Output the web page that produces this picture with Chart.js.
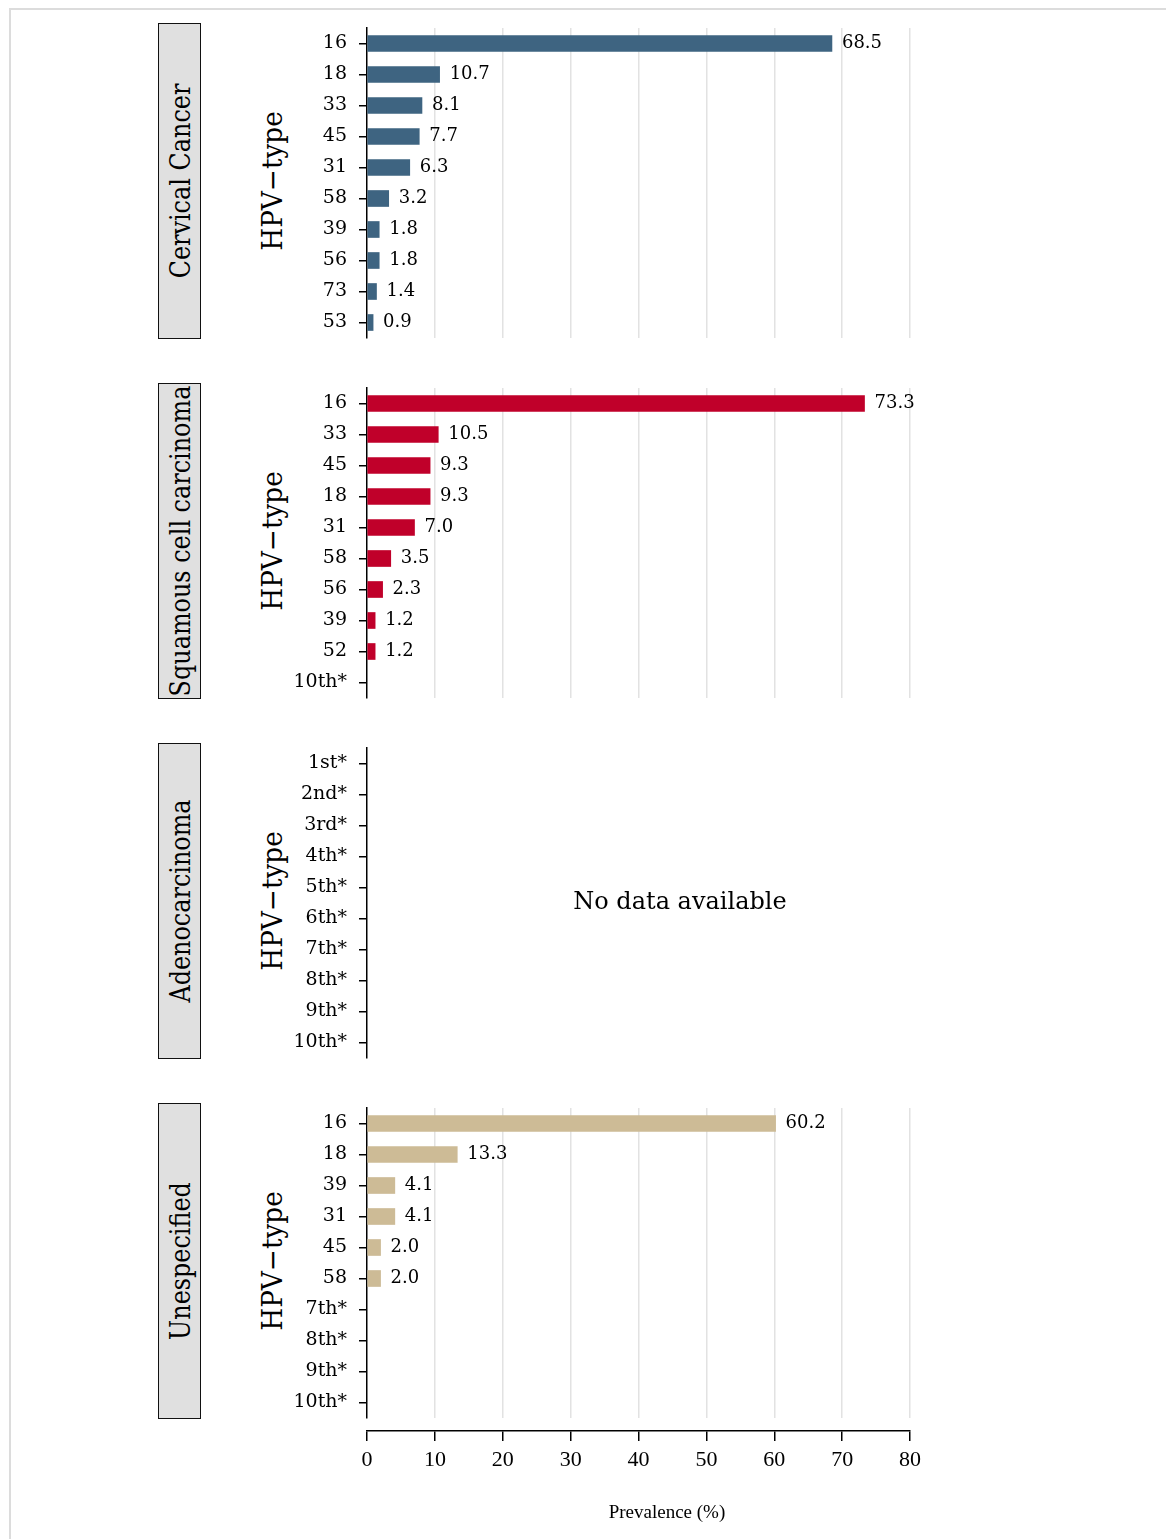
<!DOCTYPE html>
<html>
<head>
<meta charset="utf-8">
<script src="https://cdn.jsdelivr.net/npm/chart.js@4.4.1/dist/chart.umd.min.js"></script>
<style>
  body { margin: 0; background: #fff; }
  #page { position: relative; width: 1166px; height: 1539px; overflow: hidden; background: #fff; }
  #frame { position: absolute; left: 9px; top: 8px; right: -4px; bottom: -4px; border-top: 2px solid #dcdcdc; border-left: 2px solid #dcdcdc; }
  canvas { position: absolute; left: 0; }
  .strip { position: absolute; left: 158px; width: 41px; height: 314px; border: 1.5px solid #111; background: #e0e0e0; }
  .strip span, .ylab span { position: absolute; left: 50%; top: 50%; white-space: nowrap; font-family: 'DejaVu Serif', serif; color: #000; }
  .strip span { font-size: 27px; transform: translate(-50%, -50%) rotate(-90deg) scaleX(0.885); }
  .ylab { position: absolute; left: 250px; width: 44px; height: 316px; }
  .ylab span { font-size: 28px; transform: translate(-50%, -50%) rotate(-90deg) scaleX(0.94); }
  #nodata { position: absolute; left: 367px; width: 626px; top: 887px; text-align: center; font-family: 'DejaVu Serif', serif; font-size: 24px; color: #000; }
  #xtitle { position: absolute; left: 567px; width: 200px; top: 1501px; text-align: center; font-family: 'Liberation Serif', serif; font-size: 19px; color: #000; }
</style>
</head>
<body>
<div id="page">
  <div id="frame"></div>
</div>
<script>
// panel labels
const panelNames = ['Cervical Cancer', 'Squamous cell carcinoma', 'Adenocarcinoma', 'Unespecified'];
const panelColors = ['#3e6481', '#c0002a', '#cccccc', '#cdbb96'];

// HPV types per panel (top to bottom) and prevalence (%)
const cervicalTypes = ['16', '18', '33', '45', '31', '58', '39', '56', '73', '53'];
const cervicalValues = [68.5, 10.7, 8.1, 7.7, 6.3, 3.2, 1.8, 1.8, 1.4, 0.9];

const squamousTypes = ['16', '33', '45', '18', '31', '58', '56', '39', '52', '10th*'];
const squamousValues = [73.3, 10.5, 9.3, 9.3, 7.0, 3.5, 2.3, 1.2, 1.2, null];

const adenoTypes = ['1st*', '2nd*', '3rd*', '4th*', '5th*', '6th*', '7th*', '8th*', '9th*', '10th*'];
const adenoValues = [null, null, null, null, null, null, null, null, null, null];

const unspecTypes = ['16', '18', '39', '31', '45', '58', '7th*', '8th*', '9th*', '10th*'];
const unspecValues = [60.2, 13.3, 4.1, 4.1, 2.0, 2.0, null, null, null, null];

const xTicks = [0, 10, 20, 30, 40, 50, 60, 70, 80];

const panels = [
  [cervicalTypes, cervicalValues],
  [squamousTypes, squamousValues],
  [adenoTypes, adenoValues],
  [unspecTypes, unspecValues]
];

const page = document.getElementById('page');
Chart.defaults.font.family = "'DejaVu Serif', serif";
Chart.defaults.color = '#000';

// writes the value just right of each bar
const valueLabels = {
  id: 'valueLabels',
  afterDatasetsDraw(chart) {
    const ctx = chart.ctx;
    const meta = chart.getDatasetMeta(0);
    const vals = chart.data.datasets[0].data;
    ctx.save();
    ctx.font = "18px 'DejaVu Serif', serif";
    ctx.fillStyle = '#000';
    ctx.textAlign = 'left';
    ctx.textBaseline = 'middle';
    meta.data.forEach((bar, i) => {
      if (vals[i] == null) return;
      ctx.fillText(vals[i].toFixed(1), bar.x + 10, bar.y);
    });
    ctx.restore();
  }
};

panels.forEach(([types, values], p) => {
  const top = 360 * p;

  const strip = document.createElement('div');
  strip.className = 'strip';
  strip.style.top = (23 + top) + 'px';
  strip.innerHTML = `<span>${panelNames[p]}</span>`;
  page.appendChild(strip);

  const ylab = document.createElement('div');
  ylab.className = 'ylab';
  ylab.style.top = (23 + top) + 'px';
  ylab.innerHTML = '<span>HPV\u2212type</span>';
  page.appendChild(ylab);

  const canvas = document.createElement('canvas');
  canvas.width = 1166;
  canvas.height = 340;
  canvas.style.top = (13 + top) + 'px';
  page.appendChild(canvas);

  const showGrid = values.some(v => v != null);

  new Chart(canvas, {
    type: 'bar',
    data: {
      labels: types,
      datasets: [{
        data: values,
        backgroundColor: panelColors[p],
        barThickness: 16
      }]
    },
    options: {
      indexAxis: 'y',
      responsive: false,
      animation: false,
      layout: { padding: { left: 0, right: 256, top: 15, bottom: 15 } },
      plugins: { legend: { display: false }, tooltip: { enabled: false } },
      scales: {
        x: {
          min: 0, max: 80,
          ticks: { display: false, stepSize: 10 },
          grid: {
            drawTicks: false,
            lineWidth: 1.5,
            color: c => (!showGrid || c.tick.value === 0) ? 'rgba(0,0,0,0)' : '#e2e2e2'
          },
          border: { display: false },
          afterFit: s => { s.height = 0; s.paddingLeft = 0; s.paddingRight = 0; }
        },
        y: {
          ticks: { font: { size: 19 }, padding: 12, color: '#000' },
          grid: { drawOnChartArea: false, offset: false, tickLength: 8, color: '#000', lineWidth: 1.5 },
          border: { display: true, color: '#000', width: 1.5 },
          afterFit: s => { s.width = 367; s.paddingTop = 0; s.paddingBottom = 0; }
        }
      }
    },
    plugins: [valueLabels]
  });
});

const nodata = document.createElement('div');
nodata.id = 'nodata';
nodata.textContent = 'No data available';
page.appendChild(nodata);

// shared x axis at the bottom
const axisCanvas = document.createElement('canvas');
axisCanvas.width = 1166;
axisCanvas.height = 139;
axisCanvas.style.top = '1400px';
page.appendChild(axisCanvas);

new Chart(axisCanvas, {
  type: 'bar',
  data: { labels: [''], datasets: [{ data: [null] }] },
  options: {
    indexAxis: 'y',
    responsive: false,
    animation: false,
    layout: { padding: { left: 367, right: 256, top: 0, bottom: 0 } },
    plugins: { legend: { display: false }, tooltip: { enabled: false } },
    scales: {
      y: { display: false },
      x: {
        min: 0, max: 80,
        afterBuildTicks: s => { s.ticks = xTicks.map(v => ({ value: v })); },
        ticks: { font: { family: "'Liberation Serif', serif", size: 22 }, padding: 6, color: '#000', maxRotation: 0 },
        grid: { drawOnChartArea: false, tickLength: 10, color: '#000', lineWidth: 1.5 },
        border: { display: true, color: '#000', width: 1.5 },
        afterFit: s => { s.height = 108; s.paddingLeft = 0; s.paddingRight = 0; }
      }
    }
  }
});

const xtitle = document.createElement('div');
xtitle.id = 'xtitle';
xtitle.textContent = 'Prevalence (%)';
page.appendChild(xtitle);
</script>
</body>
</html>
